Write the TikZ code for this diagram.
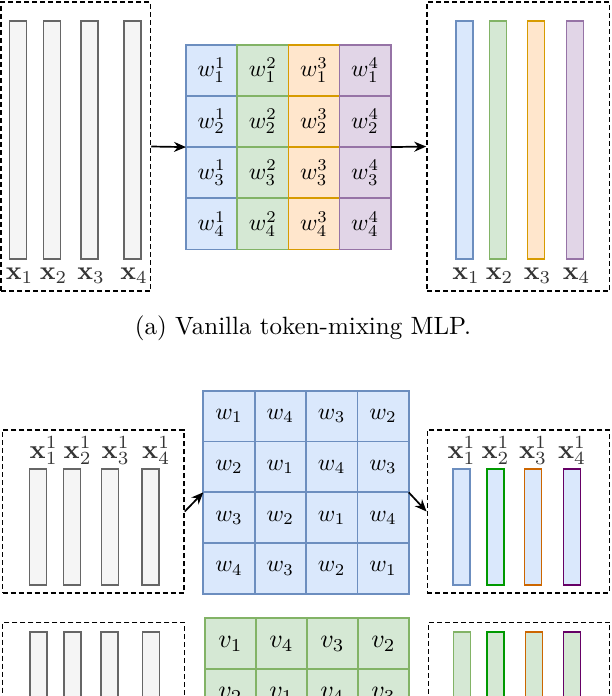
\documentclass[tikz,border=0pt]{standalone}
\usepackage{graphicx}
\usetikzlibrary{arrows.meta}
\definecolor{bfill}{HTML}{DAE8FC}\definecolor{bdraw}{HTML}{6C8EBF}
\definecolor{gfill}{HTML}{D5E8D4}\definecolor{gdraw}{HTML}{82B366}
\definecolor{ofill}{HTML}{FFE6CC}\definecolor{odraw}{HTML}{D79B00}
\definecolor{pfill}{HTML}{E1D5E7}\definecolor{pdraw}{HTML}{9673A6}
\definecolor{grayfill}{HTML}{F5F5F5}\definecolor{graydraw}{HTML}{666666}
\definecolor{sgreen}{HTML}{009900}\definecolor{sorange}{HTML}{CC6600}\definecolor{spurple}{HTML}{660066}
\definecolor{lbl}{HTML}{333333}
\newcommand{\szbox}[2]{\scalebox{#1}{#2}}
\tikzset{
  dbox/.style={draw=black, line width=1.5pt, dash pattern=on 5pt off 3pt, inner sep=0pt},
  vbar/.style 2 args={draw=#1, fill=#2, line width=1.7pt, inner sep=0pt, minimum width=17pt},
  cell/.style 2 args={draw=#1, fill=#2, line width=1.7pt, inner sep=0pt, minimum width=51.2pt, minimum height=51pt},
  arr/.style={-{Stealth[length=12pt,width=10pt]}, line width=1.7pt},
  xlab/.style={text=lbl, inner sep=0pt},
  ghost/.style={inner sep=0pt, outer sep=0pt},
}
\begin{document}
\begin{tikzpicture}[x=1pt,y=-1pt]
\useasboundingbox (0,0) rectangle (612,696);
\clip (0,0) rectangle (612,696);
\fill[white] (0,0) rectangle (612,696);

% ---------- (a) ----------
\node[dbox, minimum width=149.5pt, minimum height=289pt] (boxA) at (75.75,146.5) {};
\node[dbox, minimum width=182.5pt, minimum height=289pt] (boxB) at (518.25,146.5) {};
\foreach \x [count=\i] in {18,52,89.5,132.5}{
  \node[vbar={graydraw}{grayfill}, minimum height=238pt] (ta\i) at (\x,140) {};
  \node[xlab, anchor=base] (tax\i) at (\x+1.5,279.5) {\szbox{2.6}{$\mathbf{x}_{\i}$}};
}
\foreach \x/\dc/\fc [count=\i] in {464.5/bdraw/bfill,498/gdraw/gfill,536/odraw/ofill,575/pdraw/pfill}{
  \node[vbar={\dc}{\fc}, minimum height=238pt] (tb\i) at (\x,140) {};
  \node[xlab, anchor=base] (tbx\i) at (\x+1.5,279.5) {\szbox{2.6}{$\mathbf{x}_{\i}$}};
}
\foreach \c/\fc/\dc in {1/bfill/bdraw,2/gfill/gdraw,3/ofill/odraw,4/pfill/pdraw}{
  \foreach \r in {1,...,4}{
    \node[cell={\dc}{\fc}] (ma\r\c) at ({186+51.2*(\c-0.5)},{44.7+51.2*(\r-0.5)}) {\szbox{2.35}{$w_{\r}^{\c}$}};
  }
}
\node[ghost, minimum width=204.8pt, minimum height=204.8pt] (matA) at (288.4,147.1) {};
\draw[arr] (boxA.east) -- (matA.west);
\draw[arr] (matA.east) -- (boxB.west);
\node[anchor=base, inner sep=0pt] (capA) at (303,334.5) {\szbox{2.5}{(a) Vanilla token-mixing MLP.}};

% ---------- second block ----------
\node[dbox, minimum width=181.3pt, minimum height=163pt] (boxC) at (93.35,511.5) {};
\node[dbox, minimum width=182pt, minimum height=163pt] (boxD) at (518.3,511.5) {};
\foreach \x [count=\i] in {38,72,110,150.5}{
  \node[vbar={graydraw}{grayfill}, minimum height=116pt] (tc\i) at (\x,527) {};
  \node[xlab, anchor=base west] (tcx\i) at (\x-8.5,458) {\szbox{2.65}{$\mathbf{x}^{1}_{\i}$}};
}
\foreach \x/\dc [count=\i] in {461.5/bdraw,495.5/sgreen,533/sorange,572/spurple}{
  \node[vbar={\dc}{bfill}, minimum height=116pt] (td\i) at (\x,527) {};
  \node[xlab, anchor=base] (tdx\i) at (\x,458) {\szbox{2.65}{$\mathbf{x}^{1}_{\i}$}};
}
\foreach \c in {1,...,4}{
  \foreach \r in {1,...,4}{
    \pgfmathtruncatemacro\k{mod(\r-\c+4,4)+1}
    \node[cell={bdraw}{bfill}, minimum width=51.35pt, minimum height=50.8pt] (mb\r\c) at ({203.3+51.35*(\c-0.5)},{390.7+50.8*(\r-0.5)}) {\szbox{2.35}{$w_{\k}$}};
  }
}
\node[ghost, minimum width=205.4pt, minimum height=203.3pt] (matB) at (306,492.35) {};
\draw[arr] (boxC.east) -- (matB.west);
\draw[arr] (matB.east) -- (boxD.west);

% ---------- third block (cut off) ----------
\node[dbox, minimum width=181.8pt, minimum height=163pt] (boxE) at (93.6,703.8) {};
\node[dbox, minimum width=181.1pt, minimum height=163pt] (boxF) at (519.15,703.8) {};
\foreach \x [count=\i] in {38.5,72.5,109.5,151}{
  \node[vbar={graydraw}{grayfill}, minimum height=116pt] (te\i) at (\x,690) {};
}
\foreach \x/\dc [count=\i] in {462/gdraw,495.5/sgreen,534/sorange,572/spurple}{
  \node[vbar={\dc}{gfill}, minimum height=116pt] (tf\i) at (\x,690) {};
}
\foreach \c in {1,...,4}{
  \foreach \r in {1,2}{
    \pgfmathtruncatemacro\k{mod(\r-\c+4,4)+1}
    \node[cell={gdraw}{gfill}, minimum width=51pt, minimum height=51pt] (mc\r\c) at ({205+51*(\c-0.5)},{618.3+51*(\r-0.5)}) {\szbox{2.6}{$v_{\k}$}};
  }
}
\end{tikzpicture}
\end{document}
